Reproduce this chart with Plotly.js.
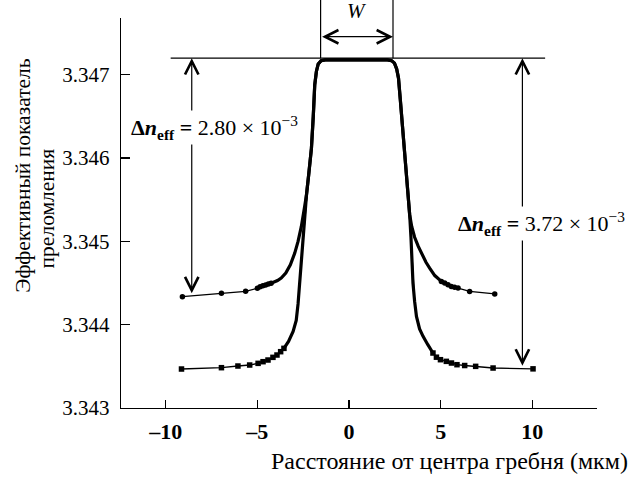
<!DOCTYPE html>
<html>
<head>
<meta charset="utf-8">
<script src="https://cdn.plot.ly/plotly-3.0.1.min.js"></script>
<style>html,body{margin:0;padding:0;background:#fff;}#chart{width:642px;height:479px;}</style>
</head>
<body>
<div id="chart"></div>
<script>
// Upper curve (circles): distance from ridge centre (µm) vs effective index
const upperX = [-9.09,-6.96,-5.64,-5.00,-4.85,-4.70,-4.55,-4.40,-4.25,-4.10,-3.90,-3.70,-3.45,-3.20,-2.96,-2.78,-2.60,-2.42,-2.32,-2.20,-2.05,-1.95,-1.87,-1.78,-1.68,-1.52,-1.30,0,2.10,2.32,2.48,2.60,2.70,2.80,2.92,3.04,3.14,3.22,3.31,3.42,3.58,3.78,3.95,4.20,4.40,4.68,5.04,5.22,5.40,5.58,5.76,5.95,6.58,7.95];
const upperY = [3.344336,3.344377,3.344401,3.344437,3.344455,3.344468,3.344478,3.344488,3.344498,3.344510,3.34453,3.34456,3.34462,3.34472,3.34486,3.34500,3.34518,3.34542,3.34556,3.34580,3.34612,3.34650,3.34688,3.34704,3.34713,3.34717,3.34718,3.34718,3.34718,3.34717,3.34714,3.34707,3.34696,3.34670,3.34640,3.34610,3.34580,3.34555,3.34532,3.34518,3.34505,3.34494,3.34486,3.34475,3.34468,3.34459,3.34452,3.34450,3.34448,3.34446,3.34445,3.34444,3.34440,3.34437];
const upperMarkX = [-9.09,-6.96,-5.64,-5.00,-4.85,-4.70,-4.55,-4.40,-4.25,5.04,5.22,5.40,5.58,5.76,5.95,6.58,7.95];
const upperMarkY = [3.344336,3.344377,3.344401,3.344437,3.344455,3.344468,3.344478,3.344488,3.344498,3.34452,3.34450,3.34448,3.34446,3.34445,3.34444,3.34440,3.34437];

// Lower curve (squares)
const lowerX = [-9.14,-6.96,-6.06,-5.42,-4.96,-4.69,-4.42,-4.15,-3.93,-3.73,-3.55,-3.30,-3.05,-2.88,-2.78,-2.70,-2.60,-2.50,-2.40,-2.32,-2.20,-2.05,-1.95,-1.87,-1.78,-1.68,-1.52,-1.30,0,2.10,2.32,2.48,2.60,2.70,2.80,2.92,3.04,3.14,3.22,3.31,3.38,3.44,3.49,3.58,3.68,3.85,4.04,4.30,4.50,4.58,4.77,4.99,5.31,5.59,5.89,6.31,6.91,7.86,10.04];
const lowerY = [3.343468,3.343484,3.343504,3.343516,3.343536,3.343556,3.343576,3.343608,3.343636,3.343676,3.343716,3.34380,3.34392,3.34405,3.34425,3.34450,3.34478,3.34505,3.34532,3.34556,3.34580,3.34612,3.34650,3.34688,3.34704,3.34713,3.34717,3.34718,3.34718,3.34718,3.34717,3.34714,3.34707,3.34696,3.34670,3.34640,3.34610,3.34580,3.34555,3.34532,3.34505,3.34475,3.34450,3.34428,3.34410,3.34395,3.34386,3.34376,3.34370,3.34366,3.34361,3.34358,3.34356,3.34354,3.34352,3.34351,3.34350,3.34348,3.34347];
const lowerMarkX = [-9.14,-6.96,-6.06,-5.42,-4.96,-4.69,-4.42,-4.15,-3.93,-3.73,-3.55,4.58,4.77,4.99,5.31,5.59,5.89,6.31,6.91,7.86,10.04];
const lowerMarkY = [3.343468,3.343484,3.343504,3.343516,3.343536,3.343556,3.343576,3.343608,3.343636,3.343676,3.343716,3.34366,3.34361,3.34358,3.34356,3.34354,3.34352,3.34351,3.34350,3.34348,3.34347];

const xTickVals = [-10,-5,0,5,10];
const xTickText = ['–10','–5','0','5','10'];
const yTickVals = [3.343,3.344,3.345,3.346,3.347];
const yTickText = ['3.343','3.344','3.345','3.346','3.347'];

const topLevel = 3.3472;      // horizontal reference line
const dnLeftLow = 3.34436;    // left arrow bottom
const dnRightLow = 3.34349;   // right arrow bottom
const wLeft = -1.55, wRight = 2.4;

const FONT = '"Liberation Serif", "DejaVu Serif", serif';

function sub(xs, ys, lo, hi) {
  const ox = [], oy = [];
  xs.forEach((v, i) => { if (v >= lo && v <= hi) { ox.push(v); oy.push(ys[i]); } });
  return {x: ox, y: oy};
}
const upCore = sub(upperX, upperY, -4.25, 5.04);
const loCore = sub(lowerX, lowerY, -3.55, 4.58);

const traces = [
  {x: upperX, y: upperY, mode: 'lines', line: {color: '#000', width: 1.3}, hoverinfo: 'skip'},
  {x: lowerX, y: lowerY, mode: 'lines', line: {color: '#000', width: 1.3}, hoverinfo: 'skip'},
  {x: upCore.x, y: upCore.y, mode: 'lines', line: {color: '#000', width: 3.2}, hoverinfo: 'skip'},
  {x: loCore.x, y: loCore.y, mode: 'lines', line: {color: '#000', width: 3.2}, hoverinfo: 'skip'},
  {x: upperMarkX, y: upperMarkY, mode: 'markers', marker: {symbol: 'circle', size: 5.5, color: '#000'}},
  {x: lowerMarkX, y: lowerMarkY, mode: 'markers', marker: {symbol: 'square', size: 5.5, color: '#000'}}
];

function vArrow(x, yTop, yBot) {
  return {x: x, y: yTop, ax: x, ay: yBot, xref: 'x', yref: 'y', axref: 'x', ayref: 'y',
    text: '', showarrow: true, arrowhead: 5, startarrowhead: 5, arrowside: 'end+start',
    arrowwidth: 1.2, arrowsize: 2.2, startarrowsize: 2.2, arrowcolor: '#000', standoff: 0, startstandoff: 0};
}

const layout = {
  width: 642, height: 479,
  margin: {l: 121, r: 45, t: 18, b: 71},
  paper_bgcolor: '#fff', plot_bgcolor: '#fff',
  showlegend: false,
  font: {family: FONT, color: '#000', size: 20},
  xaxis: {
    range: [-12.44, 13.53], tickvals: xTickVals, ticktext: xTickText.map(t => '<b>' + t + '</b>'),
    ticks: 'inside', ticklen: 8, tickwidth: 1.3, tickcolor: '#000',
    showline: true, linecolor: '#000', linewidth: 1.3, showgrid: false, zeroline: false,
    tickfont: {family: FONT, size: 22, color: '#000'}, ticklabelstandoff: 3
  },
  yaxis: {
    range: [3.343, 3.347682], tickvals: yTickVals, ticktext: yTickText,
    ticks: 'inside', ticklen: 9, tickwidth: 1.3, tickcolor: '#000',
    showline: true, linecolor: '#000', linewidth: 1.3, showgrid: false, zeroline: false,
    tickfont: {family: FONT, size: 21, color: '#000'}, ticklabelstandoff: 6
  },
  shapes: [
    {type: 'line', xref: 'x', yref: 'y', x0: -9.73, x1: 10.7, y0: topLevel, y1: topLevel, line: {color: '#000', width: 1.2}},
    {type: 'line', xref: 'x', yref: 'paper', x0: wLeft, x1: wLeft, y0: (topLevel - 3.343) / 0.004682, y1: 1.05, line: {color: '#000', width: 1.2}},
    {type: 'line', xref: 'x', yref: 'paper', x0: wRight, x1: wRight, y0: (topLevel - 3.343) / 0.004682, y1: 1.05, line: {color: '#000', width: 1.2}}
  ],
  annotations: [
    vArrow(-8.58, topLevel, dnLeftLow),
    vArrow(9.46, topLevel, dnRightLow),
    {x: wRight, y: 0.952, ax: wLeft, ay: 0, xref: 'x', yref: 'paper', axref: 'x', ayref: 'pixel',
      text: '', showarrow: true, arrowhead: 5, startarrowhead: 5, arrowside: 'end+start',
      arrowwidth: 1.2, arrowsize: 2.2, startarrowsize: 2.2, arrowcolor: '#000', standoff: 0, startstandoff: 0},
    {x: 0.42, y: 1.054, xref: 'x', yref: 'paper', text: '<i>W</i>', showarrow: false, font: {size: 21}},
    {x: -7.33, y: 3.34637, xref: 'x', yref: 'y', showarrow: false, bgcolor: '#fff', borderpad: 1,
      text: '<b>Δ<i>n</i></b><sub><b>eff</b></sub> <b>=</b> 2.80 × 10<sup>−3</sup>', font: {size: 22}},
    {x: 10.52, y: 3.34522, xref: 'x', yref: 'y', showarrow: false, bgcolor: '#fff', borderpad: 1,
      text: '<b>Δ<i>n</i></b><sub><b>eff</b></sub> <b>=</b> 3.72 × 10<sup>−3</sup>', font: {size: 22}},
    {x: 1.069, y: -0.175, xref: 'paper', yref: 'paper', xanchor: 'right', showarrow: false,
      text: 'Расстояние от центра гребня (мкм)', font: {size: 24}},
    {x: -0.234, y: 0.597, xref: 'paper', yref: 'paper', textangle: -90, showarrow: false,
      text: 'Эффективный показатель', font: {size: 21.5}},
    {x: -0.186, y: 0.513, xref: 'paper', yref: 'paper', textangle: -90, showarrow: false,
      text: 'преломления', font: {size: 21.5}}
  ]
};

Plotly.newPlot('chart', traces, layout, {staticPlot: true, displayModeBar: false});
</script>
</body>
</html>
